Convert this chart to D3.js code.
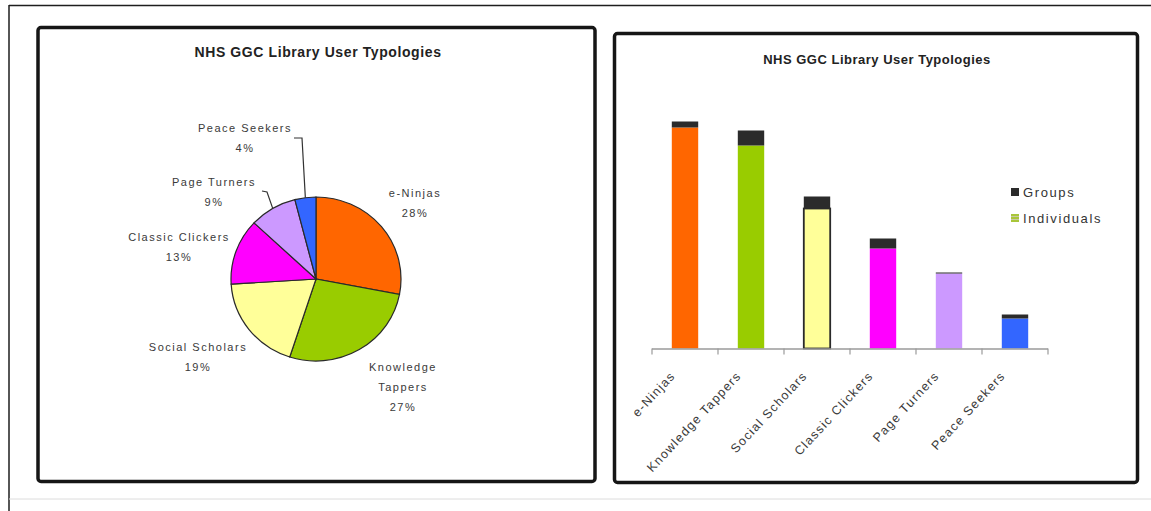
<!DOCTYPE html>
<html>
<head>
<meta charset="utf-8">
<script src="https://cdn.jsdelivr.net/npm/d3@7"></script>
<style>
  html, body { margin: 0; padding: 0; background: #ffffff; }
  svg { display: block; }
  text { font-family: "Liberation Sans", Arial, sans-serif; }
</style>
</head>
<body>
<svg id="chart" width="1151" height="511"></svg>
<script>
// ---------------- data ----------------
const title = "NHS GGC Library User Typologies";
const categories = ["e-Ninjas", "Knowledge Tappers", "Social Scholars", "Classic Clickers", "Page Turners", "Peace Seekers"];
const piePercent = [28, 27, 19, 13, 9, 4];
const individuals = [221, 203, 140, 100, 75, 30];
const groups = [6, 15, 12, 10, 1, 4];
const seriesNames = ["Groups", "Individuals"];
const pieLabelLines = [["e-Ninjas"], ["Knowledge", "Tappers"], ["Social Scholars"], ["Classic Clickers"], ["Page Turners"], ["Peace Seekers"]];

// ---------------- styles / layout ----------------
const colors = ["#FF6600", "#99CC00", "#FFFF99", "#FF00FF", "#CC99FF", "#3366FF"];
const groupColor = "#2b2b2b";
const textColor = "#3a3a3a";

const svg = d3.select("#chart");

// page frame
svg.append("line").attr("x1", 9).attr("y1", 5.5).attr("x2", 1151).attr("y2", 5.5)
  .attr("stroke", "#1e1e1e").attr("stroke-width", 1.5);
svg.append("line").attr("x1", 9).attr("y1", 5).attr("x2", 9).attr("y2", 511)
  .attr("stroke", "#1e1e1e").attr("stroke-width", 1.5);
svg.append("line").attr("x1", 9).attr("y1", 499).attr("x2", 1151).attr("y2", 499)
  .attr("stroke", "#dcdcdc").attr("stroke-width", 1);

// panel boxes
svg.append("rect").attr("x", 38).attr("y", 27.5).attr("width", 557).attr("height", 454)
  .attr("rx", 3).attr("fill", "none").attr("stroke", "#161616").attr("stroke-width", 3.5);
svg.append("rect").attr("x", 614.5).attr("y", 33.5).attr("width", 523).attr("height", 449)
  .attr("rx", 3).attr("fill", "none").attr("stroke", "#161616").attr("stroke-width", 3.5);

// ---------------- Pie chart ----------------
svg.append("text").attr("x", 318).attr("y", 57).attr("text-anchor", "middle")
  .attr("font-size", 14).attr("font-weight", "bold").attr("letter-spacing", "0.6px")
  .attr("fill", "#222").text(title);

const cx = 316, cy = 279, R = 85, yScaleFactor = 0.965;
const pieData = categories.map((c, i) => ({ name: c, value: piePercent[i], color: colors[i], lines: pieLabelLines[i] }));
const arcs = d3.pie().sort(null).value(d => d.value)(pieData);
const arcGen = d3.arc().innerRadius(0).outerRadius(R);

const pieG = svg.append("g").attr("transform", `translate(${cx},${cy}) scale(1,${yScaleFactor})`);
pieG.selectAll("path").data(arcs).join("path")
  .attr("d", arcGen)
  .attr("fill", d => d.data.color)
  .attr("stroke", "#2a2a2a")
  .attr("stroke-width", 1.2)
  .attr("vector-effect", "non-scaling-stroke");

// label positions (layout, relative to pie centre)
const labelPos = [
  [99, -86],   // e-Ninjas
  [87, 88],    // Knowledge Tappers
  [-118, 68],  // Social Scholars
  [-137, -42], // Classic Clickers
  [-102, -97], // Page Turners
  [-71, -151]  // Peace Seekers
];
const lineGap = 20;
arcs.forEach((a, i) => {
  const [lx, ly] = labelPos[i];
  const lines = a.data.lines.concat([a.data.value + "%"]);
  const t = svg.append("text").attr("text-anchor", "middle")
    .attr("font-size", 11).attr("letter-spacing", "1.5px").attr("fill", textColor);
  lines.forEach((s, k) => {
    t.append("tspan").attr("x", cx + lx).attr("y", cy + ly + k * lineGap + 4).text(s);
  });
});

// leader lines for small slices (Page Turners, Peace Seekers)
function arcPoint(a) {
  const ang = (a.startAngle + a.endAngle) / 2;
  return [cx + R * Math.sin(ang), cy - R * Math.cos(ang) * yScaleFactor];
}
const leaders = [
  { i: 5, start: [-22, -141], knee: [-14, -141] },
  { i: 4, start: [-54, -88], knee: [-49, -87] }
];
leaders.forEach(L => {
  const p = arcPoint(arcs[L.i]);
  const pts = [[cx + L.start[0], cy + L.start[1]], [cx + L.knee[0], cy + L.knee[1]], p];
  svg.append("path").attr("d", d3.line()(pts))
    .attr("fill", "none").attr("stroke", "#333").attr("stroke-width", 1.2);
});

// ---------------- Stacked bar chart ----------------
svg.append("text").attr("x", 877).attr("y", 64).attr("text-anchor", "middle")
  .attr("font-size", 13).attr("font-weight", "bold").attr("letter-spacing", "0.5px")
  .attr("fill", "#222").text(title);

const x = d3.scaleBand().domain(categories).range([652, 1048]).paddingInner(0).paddingOuter(0);
const y = d3.scaleLinear().domain([0, 240]).range([348.5, 108.5]);
const barFrac = 0.4;
const bw = x.bandwidth() * barFrac;
const barData = categories.map((c, i) => ({ name: c, ind: individuals[i], grp: groups[i], color: colors[i] }));

const barsG = svg.append("g");
// individuals
barsG.selectAll("rect.ind").data(barData).join("rect").attr("class", "ind")
  .attr("x", d => x(d.name) + (x.bandwidth() - bw) / 2)
  .attr("y", d => y(d.ind))
  .attr("width", bw)
  .attr("height", d => y(0) - y(d.ind))
  .attr("fill", d => d.color)
  .attr("stroke", (d, i) => i === 2 ? "#2a2a2a" : "none")
  .attr("stroke-width", 1.8);
// groups
barsG.selectAll("rect.grp").data(barData).join("rect").attr("class", "grp")
  .attr("x", d => x(d.name) + (x.bandwidth() - bw) / 2)
  .attr("y", d => y(d.ind + d.grp))
  .attr("width", bw)
  .attr("height", d => y(d.ind) - y(d.ind + d.grp))
  .attr("fill", groupColor);

// x axis line with ticks at band boundaries
const axisG = svg.append("g");
axisG.append("line").attr("x1", x.range()[0]).attr("x2", x.range()[1])
  .attr("y1", y(0) + 0.5).attr("y2", y(0) + 0.5).attr("stroke", "#9a9a9a").attr("stroke-width", 1.5);
const tickXs = categories.map(c => x(c)).concat([x.range()[1]]);
axisG.selectAll("line.tick").data(tickXs).join("line").attr("class", "tick")
  .attr("x1", d => d).attr("x2", d => d)
  .attr("y1", y(0)).attr("y2", y(0) + 6)
  .attr("stroke", "#9a9a9a").attr("stroke-width", 1.2);

// rotated category labels
axisG.selectAll("text.cat").data(categories).join("text").attr("class", "cat")
  .attr("transform", d => `translate(${x(d) + x.bandwidth() / 2 - 9},${y(0) + 28}) rotate(-47)`)
  .attr("text-anchor", "end")
  .attr("font-size", 12.5).attr("letter-spacing", "1.3px")
  .attr("fill", textColor)
  .text(d => d);

// legend
const defs = svg.append("defs");
const pat = defs.append("pattern").attr("id", "indPat").attr("patternUnits", "userSpaceOnUse")
  .attr("width", 4).attr("height", 3);
pat.append("rect").attr("width", 4).attr("height", 3).attr("fill", "#a9c63a");
pat.append("rect").attr("width", 4).attr("height", 1).attr("fill", "#c9c9a4");

const legendItems = [
  { name: seriesNames[0], fill: groupColor, yPos: 192 },
  { name: seriesNames[1], fill: "url(#indPat)", yPos: 218 }
];
const lg = svg.append("g");
legendItems.forEach(it => {
  lg.append("rect").attr("x", 1011).attr("y", it.yPos - 4).attr("width", 8).attr("height", 8).attr("fill", it.fill);
  lg.append("text").attr("x", 1023).attr("y", it.yPos + 5)
    .attr("font-size", 13).attr("letter-spacing", "1.6px").attr("fill", "#333").text(it.name);
});
</script>
</body>
</html>
